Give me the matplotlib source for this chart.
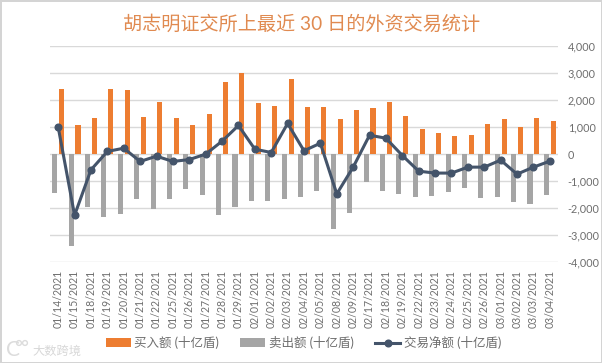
import matplotlib
matplotlib.use('Agg')
import matplotlib.pyplot as plt
from matplotlib.transforms import IdentityTransform
import numpy as np

dates = ['01/14/2021', '01/15/2021', '01/18/2021', '01/19/2021', '01/20/2021', '01/21/2021', '01/22/2021', '01/25/2021',
         '01/26/2021', '01/27/2021', '01/28/2021', '01/29/2021', '02/01/2021', '02/02/2021', '02/03/2021', '02/04/2021',
         '02/05/2021', '02/08/2021', '02/09/2021', '02/17/2021', '02/18/2021', '02/19/2021', '02/22/2021', '02/23/2021',
         '02/24/2021', '02/25/2021', '02/26/2021', '03/01/2021', '03/02/2021', '03/03/2021', '03/04/2021']
buy = [2420, 1090, 1345, 2420, 2380, 1380, 1940, 1345, 1090, 1490, 2680, 3010, 1900, 1790, 2790, 1750,
       1750, 1310, 1640, 1715, 1940, 1420, 940, 790, 680, 715, 1120, 1310, 1010, 1345, 1235]
sell = [-1430, -3395, -1950, -2320, -2210, -1650, -2025, -1650, -1280, -1505, -2250, -1950, -1730, -1730, -1650, -1600,
        -1360, -2765, -2170, -1025, -1360, -1470, -1580, -1545, -1395, -1245, -1620, -1580, -1765, -1840, -1505]
net = [1000, -2260, -580, 100, 220, -270, -75, -270, -200, 0, 480, 1060, 185, 60, 1135, 125,
       405, -1470, -480, 700, 590, -50, -630, -700, -700, -480, -480, -220, -740, -480, -260]
yticks = [-4000, -3000, -2000, -1000, 0, 1000, 2000, 3000, 4000]

W, H = 602, 363
text_font = ['Lato', 'Noto Sans CJK SC']
grey_text = '#6e6e6e'

fig = plt.figure(figsize=(W / 100, H / 100), dpi=100)
fig.patch.set_edgecolor('#d4d4d4')
fig.patch.set_linewidth(2)
ax = fig.add_axes([50 / W, 1 - 262.3 / H, 508 / W, 216.3 / H])

x = np.arange(len(dates))
b1 = ax.bar(x + 0.21, buy, 0.31, color='#ED7D31', label='买入额 (十亿盾)', zorder=2)
b2 = ax.bar(x - 0.21, sell, 0.31, color='#A5A5A5', label='卖出额 (十亿盾)', zorder=2)
l1, = ax.plot(x, net, color='#44546A', lw=2.2, marker='o', ms=4.8, label='交易净额 (十亿盾)', zorder=3)

ax.set_xlim(-0.5, 30.5)
ax.set_ylim(-4000, 4000)
ax.set_yticks(yticks)
ax.set_yticklabels([f'{v:,}' for v in yticks], family=text_font, fontsize=7.8, color=grey_text)
ax.yaxis.tick_right()
ax.set_xticks(x)
ax.set_xticklabels(dates, rotation=90, family=text_font, fontsize=7.6, color=grey_text)
ax.tick_params(length=0)
ax.tick_params(axis='x', pad=5.5)
ax.tick_params(axis='y', pad=7)
ax.grid(axis='y', color='#d9d9d9', lw=1, zorder=0)
for s in ax.spines.values():
    s.set_visible(False)

fig.text(301.5 / W, 1 - 24 / H, '胡志明证交所上最近 30 日的外资交易统计', ha='center', va='center',
         family=text_font, fontsize=13.8, color='#E08A50')

fig.legend([b1, b2, l1], [b1.get_label(), b2.get_label(), l1.get_label()],
           loc='center', bbox_to_anchor=(303.5 / W, 1 - 342.5 / H), ncol=3, frameon=False,
           prop={'family': text_font, 'size': 9}, labelcolor=grey_text,
           handlelength=2.0, columnspacing=1.7, handletextpad=0.3)

# watermark
fig.text(6 / W, 1 - 350 / H, 'C', family=text_font, fontsize=15, color='#dcdcdc', ha='left', va='center')
for cx in (19, 25):
    fig.add_artist(plt.Circle((cx, H - 343), 2.4, transform=IdentityTransform(), fill=False, ec='#dcdcdc', lw=1))
fig.text(32 / W, 1 - 351 / H, '大数跨境', family=text_font, fontsize=8.8, color='#d8d8d8', ha='left', va='center')

fig.savefig('out.png', dpi=100, edgecolor=fig.get_edgecolor())
